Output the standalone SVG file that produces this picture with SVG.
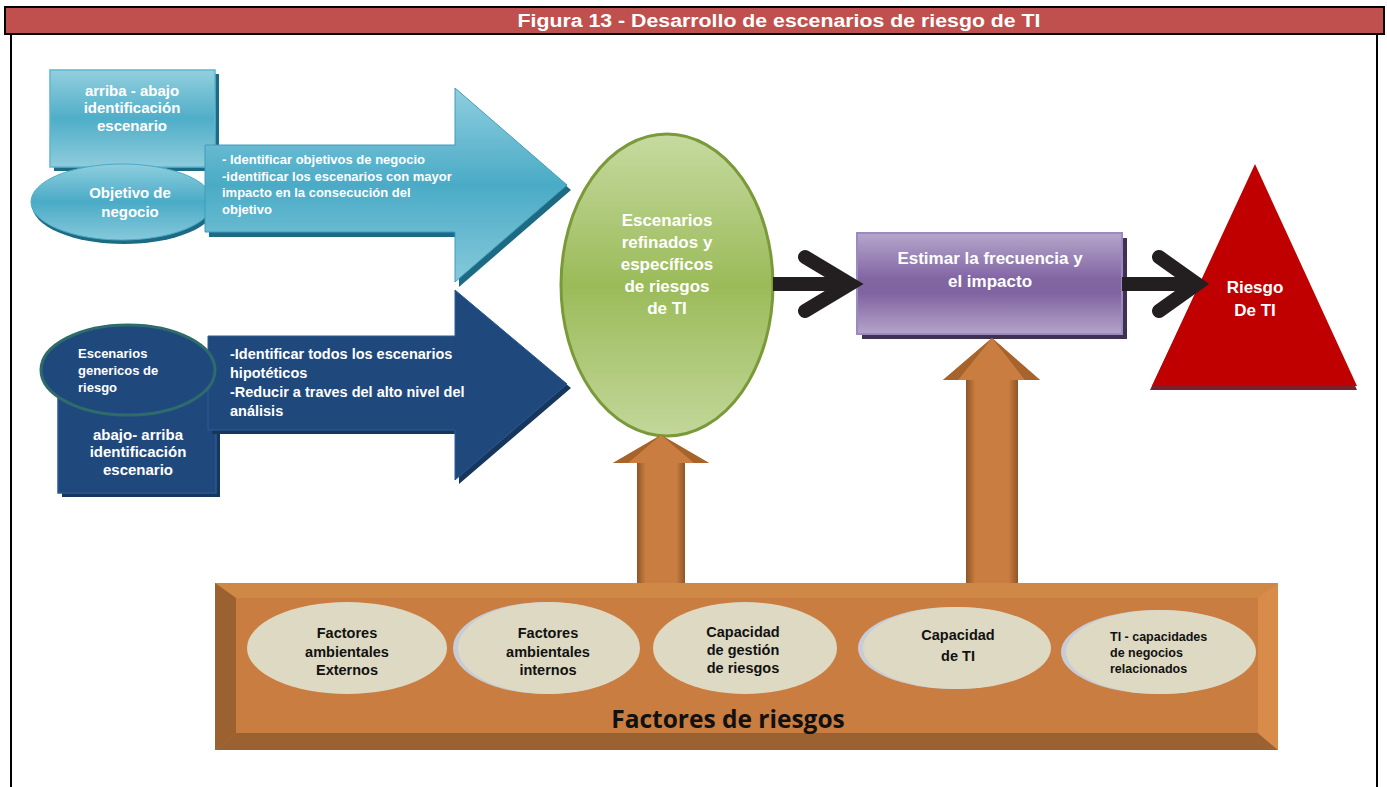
<svg xmlns="http://www.w3.org/2000/svg" width="1387" height="787" viewBox="0 0 1387 787">
<style>
.t{font-family:"Liberation Sans",Arial,sans-serif;font-weight:bold}
.w{fill:#ffffff}
.k{fill:#111111}
.c{text-anchor:middle}
</style>
<defs>
<linearGradient id="lbBox" x1="0" y1="0" x2="0" y2="1"><stop offset="0" stop-color="#93CFDF"/><stop offset="0.5" stop-color="#4FAEC8"/><stop offset="1" stop-color="#8ECCDD"/></linearGradient>
<linearGradient id="lbArr" x1="0" y1="0" x2="0" y2="1"><stop offset="0" stop-color="#8FCEDF"/><stop offset="0.5" stop-color="#4AABC6"/><stop offset="1" stop-color="#86C9DB"/></linearGradient>
<linearGradient id="green" x1="0" y1="0" x2="0" y2="1"><stop offset="0" stop-color="#C6DAA0"/><stop offset="0.5" stop-color="#9BBB59"/><stop offset="1" stop-color="#C2D79A"/></linearGradient>
<linearGradient id="purple" x1="0" y1="0" x2="0" y2="1"><stop offset="0" stop-color="#B6A6CB"/><stop offset="0.45" stop-color="#8266A4"/><stop offset="0.6" stop-color="#8064A2"/><stop offset="1" stop-color="#B5A4C9"/></linearGradient>
<linearGradient id="orShaft" x1="0" y1="0" x2="1" y2="0"><stop offset="0" stop-color="#8E5626"/><stop offset="0.18" stop-color="#C97D40"/><stop offset="0.82" stop-color="#C97D40"/><stop offset="1" stop-color="#8E5626"/></linearGradient>
</defs>

<!-- frame and title -->
<g id="frame">
<line x1="11" y1="34" x2="11" y2="787" stroke="#000" stroke-width="2"/>
<line x1="1377" y1="34" x2="1377" y2="787" stroke="#000" stroke-width="2"/>
<rect x="5" y="7" width="1379" height="27" fill="#C0504D" stroke="#000" stroke-width="2"/>
<text class="t w c" x="779" y="27" font-size="18" textLength="523" lengthAdjust="spacingAndGlyphs">Figura 13 - Desarrollo de escenarios de riesgo de TI</text>
</g>

<!-- top-down -->
<g id="arriba-abajo">
<rect x="54" y="74" width="165" height="97" fill="#1D6A84"/>
<rect x="50" y="70" width="165" height="97" fill="url(#lbBox)" stroke="#5DB6CE" stroke-width="1.5"/>
<text class="t w c" x="132" y="96" font-size="15">arriba - abajo</text>
<text class="t w c" x="132" y="113" font-size="15">identificación</text>
<text class="t w c" x="132" y="131" font-size="15">escenario</text>
</g>
<g id="objetivo-negocio">
<ellipse cx="124" cy="205" rx="92" ry="39" fill="#1D6A84"/>
<ellipse cx="122" cy="202" rx="91" ry="38" fill="url(#lbArr)" stroke="#4AABC6" stroke-width="1"/>
</g>
<g id="arrow-top">
<path d="M209,150 L459,150 L459,93 L571,190 L459,287 L459,237 L209,237 Z" fill="#1D6A84"/>
<path d="M205,145 L455,145 L455,88 L567,185 L455,282 L455,232 L205,232 Z" fill="url(#lbArr)" stroke="#3E9DB8" stroke-width="1"/>
<text class="t w" x="222" y="164" font-size="13">- Identificar objetivos de negocio</text>
<text class="t w" x="222" y="181" font-size="13">-identificar los escenarios con mayor</text>
<text class="t w" x="222" y="197" font-size="13">impacto en la consecución del</text>
<text class="t w" x="222" y="214" font-size="13">objetivo</text>
</g>
<g id="objetivo-negocio-label">
<text class="t w c" x="130" y="198" font-size="15">Objetivo de</text>
<text class="t w c" x="130" y="217" font-size="15">negocio</text>
</g>

<!-- bottom-up -->
<g id="abajo-arriba">
<rect x="62" y="384" width="158" height="113" fill="#17365D"/>
<rect x="58" y="380" width="158" height="113" fill="#1F497D" stroke="#2A5A94" stroke-width="1.5"/>
<text class="t w c" x="138" y="440" font-size="15">abajo- arriba</text>
<text class="t w c" x="138" y="457" font-size="15">identificación</text>
<text class="t w c" x="138" y="475" font-size="15">escenario</text>
</g>
<g id="arrow-bottom">
<path d="M212,340 L459,340 L459,294 L571,388 L459,484 L459,434 L212,434 Z" fill="#17365D"/>
<path d="M208,336 L455,336 L455,290 L567,384 L455,480 L455,430 L208,430 Z" fill="#1F497D" stroke="#2B5C96" stroke-width="1"/>
<text class="t w" x="230" y="359" font-size="14.5">-Identificar todos los escenarios</text>
<text class="t w" x="230" y="378" font-size="14.5">hipotéticos</text>
<text class="t w" x="230" y="397" font-size="14.5">-Reducir a traves del alto nivel del</text>
<text class="t w" x="230" y="416" font-size="14.5">análisis</text>
</g>
<g id="escenarios-genericos">
<ellipse cx="128" cy="370" rx="87" ry="45" fill="#1F497D" stroke="#2E6B6A" stroke-width="3"/>
<text class="t w" x="78" y="358" font-size="13">Escenarios</text>
<text class="t w" x="78" y="375" font-size="13">genericos de</text>
<text class="t w" x="78" y="392" font-size="13">riesgo</text>
</g>

<!-- green ellipse -->
<g id="escenarios-refinados">
<ellipse cx="667" cy="285" rx="106" ry="151" fill="url(#green)" stroke="#7A9A3A" stroke-width="3"/>
<text class="t w c" x="667" y="226" font-size="17">Escenarios</text>
<text class="t w c" x="667" y="248" font-size="17">refinados y</text>
<text class="t w c" x="667" y="270" font-size="17">específicos</text>
<text class="t w c" x="667" y="292" font-size="17">de riesgos</text>
<text class="t w c" x="667" y="314" font-size="17">de TI</text>
</g>

<!-- purple rect -->
<g id="estimar">
<rect x="862" y="238" width="265" height="101" fill="#3F3151"/>
<rect x="857" y="233" width="265" height="101" fill="url(#purple)" stroke="#9C89BE" stroke-width="2"/>
<text class="t w c" x="990" y="264" font-size="17">Estimar la frecuencia y</text>
<text class="t w c" x="990" y="287" font-size="17">el impacto</text>
</g>

<!-- red triangle -->
<g id="riesgo-ti">
<polygon points="1255,168 1357,390 1150,390" fill="#7A2030"/>
<polygon points="1255,164 1357,386 1152,386" fill="#C00000"/>
<text class="t w c" x="1255" y="293" font-size="17">Riesgo</text>
<text class="t w c" x="1255" y="316" font-size="17">De TI</text>
</g>

<!-- connectors -->
<g id="connectors" fill="none" stroke="#231F20" stroke-width="14" stroke-linejoin="miter">
<line x1="773" y1="284" x2="846" y2="284"/>
<polyline points="805,257 850,284 805,311" stroke-linecap="round"/>
<line x1="1122" y1="284" x2="1186" y2="284"/>
<polyline points="1159,257 1197,284 1159,311" stroke-linecap="round"/>
</g>

<!-- orange up arrows -->
<g id="up-arrow-1">
<polygon points="661,435 709,463 613,463" fill="#C97D40"/>
<polygon points="661,435 613,463 628,463" fill="#A7632C"/>
<polygon points="661,435 694,463 709,463" fill="#A7632C"/>
<rect x="637" y="463" width="48" height="121" fill="url(#orShaft)"/>
</g>
<g id="up-arrow-2">
<polygon points="992,338 1040,380 943,380" fill="#C97D40"/>
<polygon points="992,338 943,380 958,380" fill="#A7632C"/>
<polygon points="992,338 1025,380 1040,380" fill="#A7632C"/>
<rect x="966" y="380" width="52" height="204" fill="url(#orShaft)"/>
</g>

<!-- factores de riesgos box -->
<g id="factores-riesgos">
<rect x="215" y="583" width="1063" height="167" fill="#C97D40"/>
<polygon points="215,583 1278,583 1258,598 236,598" fill="#D08846"/>
<polygon points="215,583 236,598 236,733 215,750" fill="#9C6130"/>
<polygon points="215,750 236,733 1258,733 1278,750" fill="#9C6130"/>
<polygon points="1278,583 1278,750 1258,733 1258,598" fill="#D98C4A"/>
<text x="728" y="728" font-family="'Open Sans','Liberation Sans',sans-serif" font-weight="bold" font-size="24.5" fill="#111" text-anchor="middle">Factores de riesgos</text>
</g>
<g id="factor-1">
<ellipse cx="347" cy="648" rx="100" ry="46" fill="#DDD9C3"/>
<text class="t k c" x="347" y="638" font-size="14.5">Factores</text>
<text class="t k c" x="347" y="657" font-size="14.5">ambientales</text>
<text class="t k c" x="347" y="675" font-size="14.5">Externos</text>
</g>
<g id="factor-2">
<ellipse cx="546" cy="648" rx="93" ry="46" fill="#C8CCD6"/>
<ellipse cx="549" cy="648" rx="91" ry="46" fill="#DDD9C3"/>
<text class="t k c" x="548" y="638" font-size="14.5">Factores</text>
<text class="t k c" x="548" y="657" font-size="14.5">ambientales</text>
<text class="t k c" x="548" y="675" font-size="14.5">internos</text>
</g>
<g id="factor-3">
<ellipse cx="745" cy="648" rx="92" ry="46" fill="#DDD9C3"/>
<text class="t k c" x="743" y="637" font-size="14.5">Capacidad</text>
<text class="t k c" x="743" y="655" font-size="14.5">de gestión</text>
<text class="t k c" x="743" y="673" font-size="14.5">de riesgos</text>
</g>
<g id="factor-4">
<ellipse cx="954" cy="648" rx="96" ry="41" fill="#C8CCD6"/>
<ellipse cx="957" cy="648" rx="94" ry="41" fill="#DDD9C3"/>
<text class="t k c" x="958" y="640" font-size="14.5">Capacidad</text>
<text class="t k c" x="958" y="661" font-size="14.5">de  TI</text>
</g>
<g id="factor-5">
<ellipse cx="1158" cy="652" rx="97" ry="42" fill="#C8CCD6"/>
<ellipse cx="1161" cy="652" rx="95" ry="42" fill="#DDD9C3"/>
<text class="t k" x="1110" y="641" font-size="12.5">TI - capacidades</text>
<text class="t k" x="1110" y="657" font-size="12.5">de negocios</text>
<text class="t k" x="1110" y="673" font-size="12.5">relacionados</text>
</g>
</svg>
